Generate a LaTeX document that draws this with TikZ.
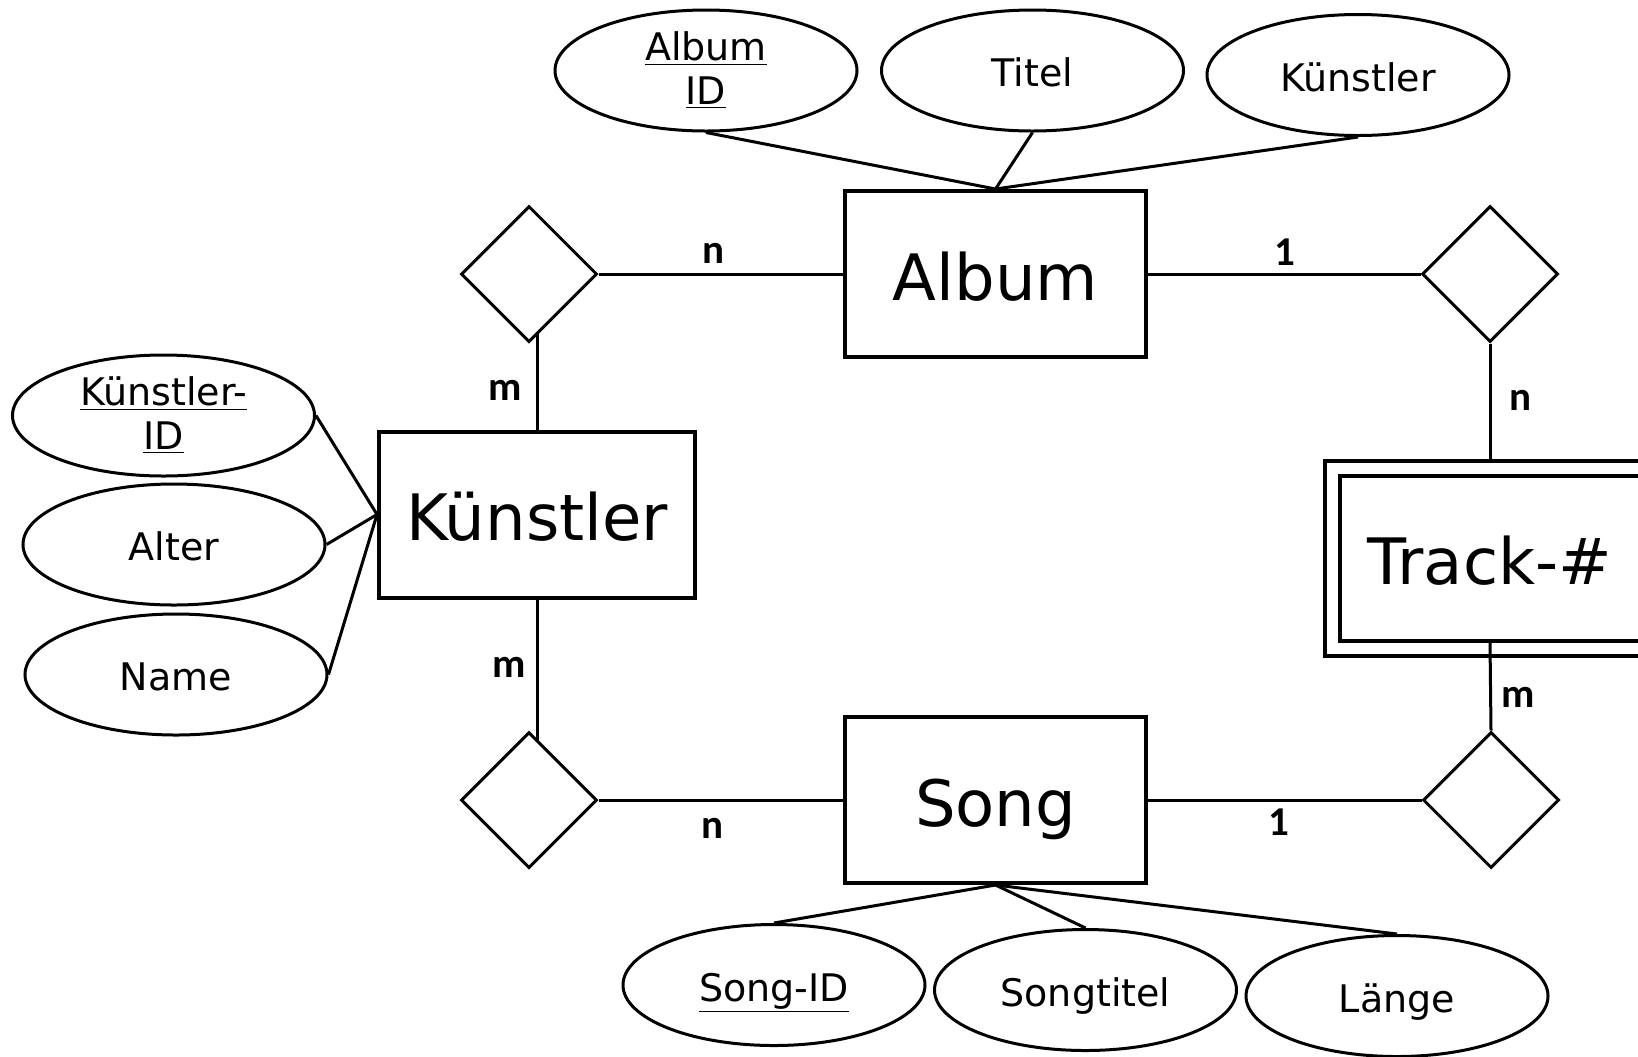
\documentclass[tikz,border=0pt]{standalone}
\usepackage{fontspec}
\setmainfont{DejaVu Sans}
\newfontfamily\lblfont{Carlito}
\usetikzlibrary{shapes.geometric,backgrounds}
\begin{document}
\begin{tikzpicture}[x=0.5pt,y=-0.5pt,
  entity/.style={draw,line width=2pt,inner sep=0pt,minimum height=83pt,
    text height=26pt,text depth=0pt,
    font=\fontsize{32}{38}\selectfont},
  attrbase/.style={draw,ellipse,line width=1.5pt,fill=white,inner sep=0pt,
    minimum width=151pt,minimum height=60.5pt,
    font=\fontsize{19}{22}\selectfont},
  attr/.style={attrbase,text height=16pt,text depth=0pt},
  attrtwo/.style={attrbase,align=center},
  rel/.style={draw,diamond,line width=1.5pt,fill=white,inner sep=0pt,
    minimum width=68pt,minimum height=68pt},
  conn/.style={line width=1.5pt},
  card/.style={inner sep=0pt,font=\lblfont\bfseries\fontsize{20.5}{24}\selectfont}]
\useasboundingbox (0,0) rectangle (1638,1056);
\clip (0,0) rectangle (1638,1056);
% entities
\node[entity,fill=white,minimum width=150.5pt] (album) at (995.5,274) {Album};
\node[entity,fill=white,minimum width=158pt] (kuen) at (537,514.5) {Künstler};
\node[entity,fill=white,minimum width=150.5pt] (song) at (995.5,800) {Song};
\node[entity,minimum width=165pt,minimum height=97.5pt] (trackout) at (1490,558) {};
\node[entity,fill=white,minimum width=150pt,minimum height=82.5pt] (track) at (1490,558) {Track-\#};
% relationships
\node[rel] (d1) at (529,274) {};
\node[rel] (d2) at (1490,274) {};
\node[rel] (d3) at (529,800) {};
\node[rel] (d4) at (1491,800) {};
% attributes
\node[attrtwo] (aid) at (706,70.5) {\underline{Album}\\\underline{ID}};
\node[attr] (titel) at (1032.5,70.5) {Titel};
\node[attr] (akuen) at (1358,75) {Künstler};
\node[attrtwo] (kid) at (163.5,415.5) {\underline{Künstler-}\\\underline{ID}};
\node[attr] (alter) at (174,544.5) {Alter};
\node[attr] (name) at (176,674.5) {Name};
\node[attr] (sid) at (774,985) {\underline{Song-ID}};
\node[attr] (stitel) at (1085.5,990) {Songtitel};
\node[attr] (laenge) at (1397,996) {Länge};
% cardinalities
\node[card] (c1) at (713,253) {n};
\node[card] (c2) at (505,390) {m};
\node[card] (c3) at (1285,252) {1};
\node[card] (c4) at (1520,400) {n};
\node[card] (c5) at (509,667) {m};
\node[card] (c6) at (712,828) {n};
\node[card] (c7) at (1279,822) {1};
\node[card] (c8) at (1518,697) {m};
\begin{pgfonlayer}{background}
\draw[conn] (aid.south) -- (album.north);
\draw[conn] (titel.south) -- (album.north);
\draw[conn] (akuen.south) -- (album.north);
\draw[conn] (kid.east) -- (kuen.west);
\draw[conn] (alter.east) -- (kuen.west);
\draw[conn] (name.east) -- (kuen.west);
\draw[conn] (song.south) -- (sid.north);
\draw[conn] (song.south) -- (stitel.north);
\draw[conn] (song.south) -- (laenge.north);
\draw[conn] (d1.east) -- (album.west);
\draw[conn] (kuen.north) -- (kuen.north |- d1.center);
\draw[conn] (album.east) -- (d2.west);
\draw[conn] (d2.south) -- (trackout.north);
\draw[conn] (kuen.south) -- (kuen.south |- d3.center);
\draw[conn] (d3.east) -- (song.west);
\draw[conn] (song.east) -- (d4.west);
\draw[conn] (track.south) -- (d4.north);
\end{pgfonlayer}
\end{tikzpicture}
\end{document}
